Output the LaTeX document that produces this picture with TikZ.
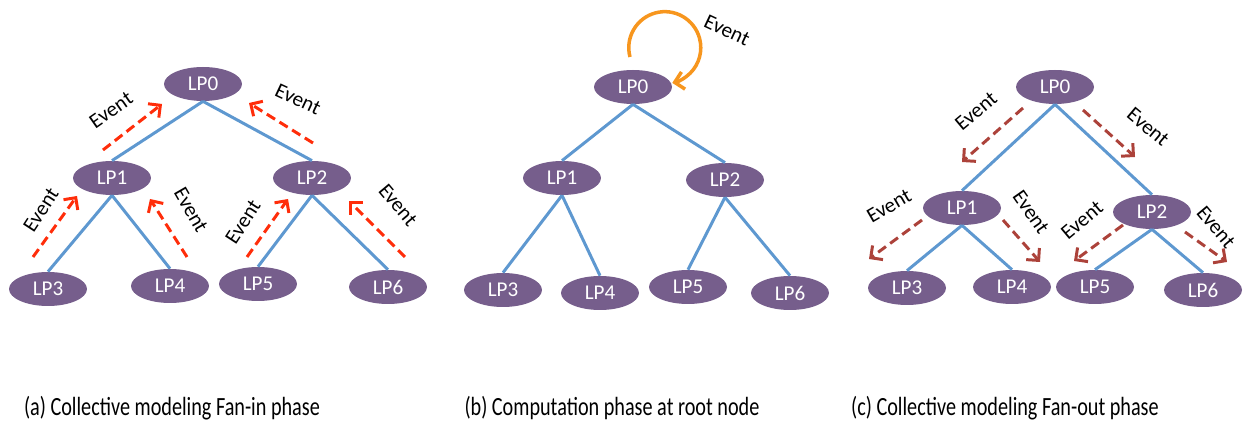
\documentclass[tikz,border=0pt]{standalone}
\usepackage{fontspec}
\setmainfont{Carlito}
\usetikzlibrary{shapes.geometric,arrows.meta}

\definecolor{lpfill}{RGB}{118,94,140}
\definecolor{treeblue}{RGB}{94,152,208}
\definecolor{finred}{RGB}{255,45,10}
\definecolor{foutbrown}{RGB}{172,66,58}
\definecolor{looporange}{RGB}{247,150,30}

\begin{document}
\begin{tikzpicture}[x=0.02cm, y=-0.02cm,
    lp/.style={ellipse, fill=lpfill, text=white, minimum width=1.56cm, minimum height=0.68cm,
               inner sep=0pt, font=\fontsize{12}{14}\selectfont},
    tree/.style={treeblue, line width=1.7pt},
    evarrow/.style={line width=1.7pt, dash pattern=on 5.5pt off 3pt,
                    -{Straight Barb[length=5pt,width=10pt,line width=1.7pt]}},
    fanin/.style={evarrow, finred},
    fanout/.style={evarrow, foutbrown},
    ev/.style={font=\fontsize{12}{14}\selectfont, inner sep=0pt},
    caption/.style={font=\fontsize{11.5}{13}\selectfont, inner sep=0pt}]

  \useasboundingbox (0,0) rectangle (1244,421);

  % (a) fan-in tree
  \node[lp] (a0) at (203,84) {LP0};
  \node[lp] (a1) at (112,178) {LP1};
  \node[lp] (a2) at (312,178) {LP2};
  \node[lp] (a3) at (48,289) {LP3};
  \node[lp] (a4) at (170,286) {LP4};
  \node[lp] (a5) at (258,284) {LP5};
  \node[lp] (a6) at (388,287) {LP6};
  \draw[tree] (a0.south) -- (a1.north);
  \draw[tree] (a0.south) -- (a2.north);
  \draw[tree] (a1.south) -- (a3.north);
  \draw[tree] (a1.south) -- (a4.north);
  \draw[tree] (a2.south) -- (a5.north);
  \draw[tree] (a2.south) -- (a6.north);

  % events going up
  \draw[fanin] (103,150) -- (162,104);
  \draw[fanin] (313,143) -- (249,103);
  \draw[fanin] (33,257) -- (77,196);
  \draw[fanin] (187,257) -- (150,199);
  \draw[fanin] (247,257) -- (288,199);
  \draw[fanin] (405,257) -- (349,201);
  \node[ev, rotate=35] (ea1) at (111,110) {Event};
  \node[ev, rotate=-25] (ea2) at (298,99) {Event};
  \node[ev, rotate=57] (ea3) at (41,210) {Event};
  \node[ev, rotate=-60] (ea4) at (191,210) {Event};
  \node[ev, rotate=57] (ea5) at (243,222) {Event};
  \node[ev, rotate=-50] (ea6) at (398,205) {Event};

  % (b) computation at the root
  \node[lp] (b0) at (633,87) {LP0};
  \node[lp] (b1) at (562,178) {LP1};
  \node[lp] (b2) at (725,180) {LP2};
  \node[lp] (b3) at (503,290) {LP3};
  \node[lp] (b4) at (600,293) {LP4};
  \node[lp] (b5) at (688,287) {LP5};
  \node[lp] (b6) at (790,293) {LP6};
  \draw[tree] (b0.south) -- (b1.north);
  \draw[tree] (b0.south) -- (b2.north);
  \draw[tree] (b1.south) -- (b3.north);
  \draw[tree] (b1.south) -- (b4.north);
  \draw[tree] (b2.south) -- (b5.north);
  \draw[tree] (b2.south) -- (b6.north);

  % self loop on the root
  \draw[looporange, line width=2pt, -{Straight Barb[length=5pt,width=10pt,line width=2pt]}]
    (630,57) arc[start angle=165, end angle=438, radius=36];
  \node[ev, rotate=-25] (eb) at (727,30) {Event};

  % (c) fan-out tree
  \node[lp] (c0) at (1055,87) {LP0};
  \node[lp] (c1) at (962,208) {LP1};
  \node[lp] (c2) at (1152,212) {LP2};
  \node[lp] (c3) at (907,288) {LP3};
  \node[lp] (c4) at (1012,287) {LP4};
  \node[lp] (c5) at (1095,287) {LP5};
  \node[lp] (c6) at (1203,290) {LP6};
  \draw[tree] (c0.south) -- (c1.north);
  \draw[tree] (c0.south) -- (c2.north);
  \draw[tree] (c1.south) -- (c3.north);
  \draw[tree] (c1.south) -- (c4.north);
  \draw[tree] (c2.south) -- (c5.north);
  \draw[tree] (c2.south) -- (c6.north);

  % events going down
  \draw[fanout] (1023,108) -- (962,162);
  \draw[fanout] (1083,110) -- (1135,157);
  \draw[fanout] (922,220) -- (869,259);
  \draw[fanout] (1003,220) -- (1040,262);
  \draw[fanout] (1123,225) -- (1074,261);
  \draw[fanout] (1185,232) -- (1227,262);
  \node[ev, rotate=40] (ec1) at (976,111) {Event};
  \node[ev, rotate=-40] (ec2) at (1148,127) {Event};
  \node[ev, rotate=30] (ec3) at (889,206) {Event};
  \node[ev, rotate=-55] (ec4) at (1031,212) {Event};
  \node[ev, rotate=40] (ec5) at (1082,220) {Event};
  \node[ev, rotate=-50] (ec6) at (1216,227) {Event};

  % captions
  \node[caption] (capa) at (172,408) {\scalebox{1}[1.3]{(a) Collective modeling Fan-in phase}};
  \node[caption] (capb) at (612,408) {\scalebox{1}[1.3]{(b) Computation phase at root node}};
  \node[caption] (capc) at (1005,408) {\scalebox{1}[1.3]{(c) Collective modeling Fan-out phase}};

\end{tikzpicture}
\end{document}
